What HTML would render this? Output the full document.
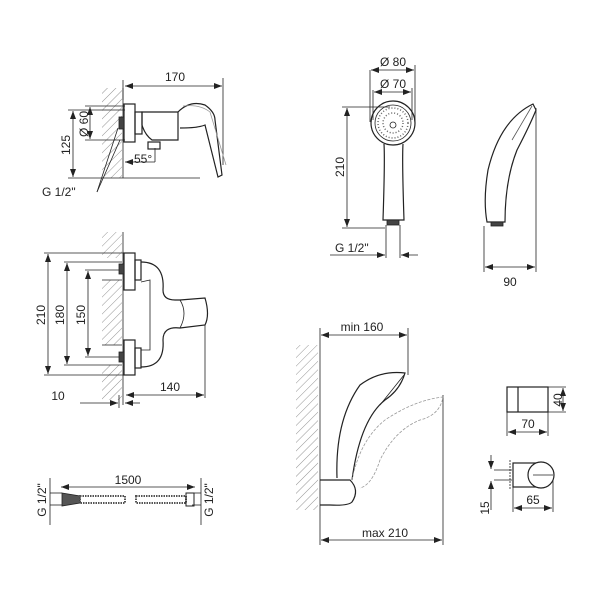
<!DOCTYPE html>
<html><head><meta charset="utf-8"><style>
html,body{margin:0;padding:0;background:#fff}
svg{display:block}
text{font-family:"Liberation Sans",sans-serif;font-size:12px;fill:#222}
</style></head><body>
<svg width="600" height="600" viewBox="0 0 600 600" xmlns="http://www.w3.org/2000/svg">
<defs>
<pattern id="h" width="6" height="6" patternUnits="userSpaceOnUse" patternTransform="rotate(45)">
<line x1="0" y1="0" x2="0" y2="6" stroke="#666" stroke-width="0.7"/>
</pattern>
<marker id="a" markerWidth="8" markerHeight="6" refX="8" refY="3" orient="auto-start-reverse" markerUnits="userSpaceOnUse">
<path d="M0,0 L8,3 L0,6z" fill="#222"/></marker>
</defs>
<g stroke="#222" stroke-width="0.8" fill="none">
<!-- TOP LEFT -->
<rect x="102" y="88" width="20" height="90" fill="url(#h)" stroke="none"/>
<line x1="123" y1="88" x2="123" y2="178"/>
<line x1="123" y1="80" x2="123" y2="100"/>
<line x1="223" y1="78" x2="223" y2="165"/>
<line x1="125" y1="86" x2="222" y2="86" marker-start="url(#a)" marker-end="url(#a)"/>
<line x1="68" y1="110" x2="125" y2="110"/>
<line x1="68" y1="178" x2="200" y2="178"/>
<line x1="73" y1="111" x2="73" y2="177" marker-start="url(#a)" marker-end="url(#a)"/>
<line x1="85" y1="106" x2="125" y2="106"/>
<line x1="85" y1="140" x2="125" y2="140"/>
<line x1="90" y1="107" x2="90" y2="139" marker-start="url(#a)" marker-end="url(#a)"/>
<rect x="124" y="104" width="11" height="38" stroke-width="1.2"/>
<rect x="135" y="112" width="7" height="22" stroke-width="1.2"/>
<rect x="119" y="117" width="5" height="12" fill="#444"/>
<path d="M142,112 L178,112 L178,140 L152,140 Q145,135 142,125 Z" stroke-width="1.2"/>
<rect x="148" y="142" width="12" height="7" stroke-width="1.2"/>
<path d="M178,112 Q190,100 205,105 Q215,112 215,120 L222,175 L218,177 L205,125 Q198,128 180,128" stroke-width="1.2"/>
<path d="M183,106 Q200,104 210,112 L226,165" stroke="#999"/>
<line x1="125" y1="162" x2="155" y2="162" marker-start="url(#a)"/>
<line x1="155" y1="162" x2="155" y2="148"/>
<line x1="97" y1="192" x2="120" y2="140"/>
<line x1="97" y1="192" x2="118" y2="128"/>
<!-- MIDDLE LEFT -->
<rect x="102" y="232" width="20" height="26" fill="url(#h)" stroke="none"/>
<rect x="102" y="280" width="20" height="65" fill="url(#h)" stroke="none"/>
<rect x="102" y="365" width="20" height="35" fill="url(#h)" stroke="none"/>
<line x1="102" y1="280" x2="122" y2="280"/><line x1="102" y1="345" x2="122" y2="345"/>
<line x1="123" y1="232" x2="123" y2="405"/>
<line x1="44" y1="253" x2="125" y2="253"/>
<line x1="44" y1="375" x2="125" y2="375"/>
<line x1="48" y1="254" x2="48" y2="374" marker-start="url(#a)" marker-end="url(#a)"/>
<line x1="64" y1="262" x2="122" y2="262"/>
<line x1="64" y1="365" x2="122" y2="365"/>
<line x1="67" y1="263" x2="67" y2="364" marker-start="url(#a)" marker-end="url(#a)"/>
<line x1="85" y1="270" x2="120" y2="270"/>
<line x1="85" y1="357" x2="120" y2="357"/>
<line x1="88" y1="271" x2="88" y2="356" marker-start="url(#a)" marker-end="url(#a)"/>
<rect x="124" y="253" width="11" height="37" stroke-width="1.2"/>
<rect x="124" y="340" width="11" height="35" stroke-width="1.2"/>
<rect x="135" y="260" width="6" height="20" stroke-width="1.2"/>
<rect x="135" y="348" width="6" height="20" stroke-width="1.2"/>
<rect x="119" y="264" width="5" height="10" fill="#444"/>
<rect x="119" y="352" width="5" height="10" fill="#444"/>
<path d="M141,262 Q165,262 163,290 Q163,300 175,300 L180,300 L205,298 Q210,315 205,325 L180,328 Q163,326 163,340 Q165,367 141,367" stroke-width="1.2"/>
<path d="M141,282 L150,280 L150,350 L141,350"/>
<path d="M180,300 Q188,313 180,328"/>
<line x1="205" y1="325" x2="205" y2="398"/>
<line x1="126" y1="395" x2="204" y2="395" marker-start="url(#a)" marker-end="url(#a)"/>
<line x1="119" y1="395" x2="119" y2="408"/>
<line x1="80" y1="403" x2="118" y2="403" marker-end="url(#a)"/>
<line x1="125" y1="403" x2="140" y2="403" marker-start="url(#a)"/>
<!-- HAND SHOWER -->
<line x1="370" y1="70" x2="370" y2="122"/>
<line x1="415" y1="65" x2="415" y2="122"/>
<line x1="371" y1="70" x2="414" y2="70" marker-start="url(#a)" marker-end="url(#a)"/>
<line x1="373" y1="90" x2="373" y2="120"/>
<line x1="412" y1="88" x2="412" y2="120"/>
<line x1="374" y1="92" x2="411" y2="92" marker-start="url(#a)" marker-end="url(#a)"/>
<circle cx="393" cy="123" r="22" stroke-width="1.2"/>
<circle cx="393" cy="123" r="18"/>
<circle cx="393" cy="123" r="15" stroke="#666" stroke-dasharray="1 2" stroke-width="1.5"/>
<circle cx="393" cy="123" r="10" stroke="#666" stroke-dasharray="1 2" stroke-width="1.5"/>
<circle cx="393" cy="125" r="3"/>
<path d="M384,144 Q385,160 383,220 L404,220 Q402,160 403,144" stroke-width="1.2"/>
<rect x="387" y="220" width="12" height="5" fill="#444"/>
<line x1="342" y1="107" x2="390" y2="107"/>
<line x1="342" y1="228" x2="385" y2="228"/>
<line x1="347" y1="108" x2="347" y2="227" marker-start="url(#a)" marker-end="url(#a)"/>
<line x1="386" y1="225" x2="386" y2="258"/>
<line x1="400" y1="225" x2="400" y2="258"/>
<line x1="330" y1="255" x2="385" y2="255" marker-end="url(#a)"/>
<line x1="401" y1="255" x2="418" y2="255" marker-start="url(#a)"/>
<path d="M533,104 Q500,120 488,170 Q483,200 487,222 L505,222 Q505,180 517,150 Q530,125 536,110 Z" stroke-width="1.2"/>
<path d="M532,106 L512,140" stroke="#555"/>
<rect x="491" y="222" width="12" height="4" fill="#444"/>
<line x1="484" y1="226" x2="484" y2="272"/>
<line x1="536" y1="108" x2="536" y2="272"/>
<line x1="485" y1="267" x2="535" y2="267" marker-start="url(#a)" marker-end="url(#a)"/>
<!-- BOTTOM RIGHT -->
<rect x="296" y="345" width="22" height="165" fill="url(#h)" stroke="none"/>
<line x1="320" y1="328" x2="320" y2="545"/>
<line x1="408" y1="328" x2="408" y2="375"/>
<line x1="321" y1="335" x2="407" y2="335" marker-start="url(#a)" marker-end="url(#a)"/>
<line x1="443" y1="395" x2="443" y2="545"/>
<line x1="321" y1="540" x2="442" y2="540" marker-start="url(#a)" marker-end="url(#a)"/>
<path d="M320,480 L350,480 Q360,490 352,502 Q348,506 330,505 L320,505" stroke-width="1.2"/>
<path d="M337,478 Q335,420 360,385 Q380,370 405,373 Q400,390 385,400 Q360,420 352,480" stroke-width="1.2"/>
<path d="M404,375 L380,405"/>
<path d="M352,480 Q360,440 385,420 Q415,400 443,397 Q440,415 420,420 Q395,430 380,460 Q372,485 360,488" stroke="#999" stroke-dasharray="3 1.5"/>
<!-- small holders -->
<rect x="507" y="387" width="41" height="25" stroke-width="1.2"/>
<line x1="518" y1="387" x2="518" y2="412" stroke-width="1.2"/>
<line x1="548" y1="387" x2="566" y2="387"/><line x1="548" y1="412" x2="566" y2="412"/>
<line x1="563" y1="388" x2="563" y2="411" marker-start="url(#a)" marker-end="url(#a)"/>
<line x1="507" y1="412" x2="507" y2="436"/><line x1="548" y1="412" x2="548" y2="436"/>
<line x1="508" y1="432" x2="547" y2="432" marker-start="url(#a)" marker-end="url(#a)"/>
<rect x="513" y="463" width="28" height="24" stroke-width="1.2"/>
<circle cx="541" cy="475" r="13" stroke-width="1.2" fill="#fff"/>
<line x1="533" y1="475" x2="553" y2="475"/>
<line x1="510" y1="460" x2="510" y2="490" stroke-dasharray="2 1"/>
<line x1="494" y1="470" x2="512" y2="470"/><line x1="494" y1="480" x2="512" y2="480"/>
<line x1="491" y1="455" x2="491" y2="469" marker-end="url(#a)"/>
<line x1="491" y1="481" x2="491" y2="510" marker-start="url(#a)"/>
<line x1="513" y1="487" x2="513" y2="512"/><line x1="553" y1="480" x2="553" y2="512"/>
<line x1="514" y1="508" x2="552" y2="508" marker-start="url(#a)" marker-end="url(#a)"/>
<!-- HOSE -->
<line x1="50" y1="478" x2="50" y2="525"/><line x1="201" y1="478" x2="201" y2="525"/>
<line x1="61" y1="487" x2="195" y2="487" marker-start="url(#a)" marker-end="url(#a)"/>
<line x1="50" y1="493" x2="62" y2="493"/><line x1="50" y1="505" x2="62" y2="505"/>
<line x1="192" y1="493" x2="201" y2="493"/><line x1="192" y1="505" x2="201" y2="505"/>
<path d="M62,493 L80,496 L80,503 L62,506 Z" fill="#555"/>
<rect x="80" y="496" width="45" height="7" stroke-dasharray="1.5 1" stroke-width="2" stroke="#555"/>
<rect x="136" y="496" width="50" height="7" stroke-dasharray="1.5 1" stroke-width="2" stroke="#555"/>
<rect x="186" y="493" width="8" height="13" stroke-width="1"/>
</g>
<g>
<text x="175" y="81" text-anchor="middle">170</text>
<text transform="translate(70,145) rotate(-90)" text-anchor="middle">125</text>
<text transform="translate(88,124) rotate(-90)" text-anchor="middle">Ø 60</text>
<text x="134" y="163">55°</text>
<text x="42" y="196">G 1/2"</text>
<text transform="translate(45,315) rotate(-90)" text-anchor="middle">210</text>
<text transform="translate(64,315) rotate(-90)" text-anchor="middle">180</text>
<text transform="translate(85,315) rotate(-90)" text-anchor="middle">150</text>
<text x="170" y="391" text-anchor="middle">140</text>
<text x="58" y="400" text-anchor="middle">10</text>
<text x="393" y="66" text-anchor="middle">Ø 80</text>
<text x="393" y="88" text-anchor="middle">Ø 70</text>
<text transform="translate(344,167) rotate(-90)" text-anchor="middle">210</text>
<text x="335" y="252">G 1/2"</text>
<text x="510" y="286" text-anchor="middle">90</text>
<text x="362" y="331" text-anchor="middle">min 160</text>
<text x="385" y="537" text-anchor="middle">max 210</text>
<text transform="translate(562,400) rotate(-90)" text-anchor="middle">40</text>
<text x="528" y="428" text-anchor="middle">70</text>
<text x="533" y="504" text-anchor="middle">65</text>
<text transform="translate(489,508) rotate(-90)" text-anchor="middle">15</text>
<text x="128" y="484" text-anchor="middle">1500</text>
<text transform="translate(46,500) rotate(-90)" text-anchor="middle">G 1/2"</text>
<text transform="translate(213,500) rotate(-90)" text-anchor="middle">G 1/2"</text>
</g>
</svg>
</body></html>
